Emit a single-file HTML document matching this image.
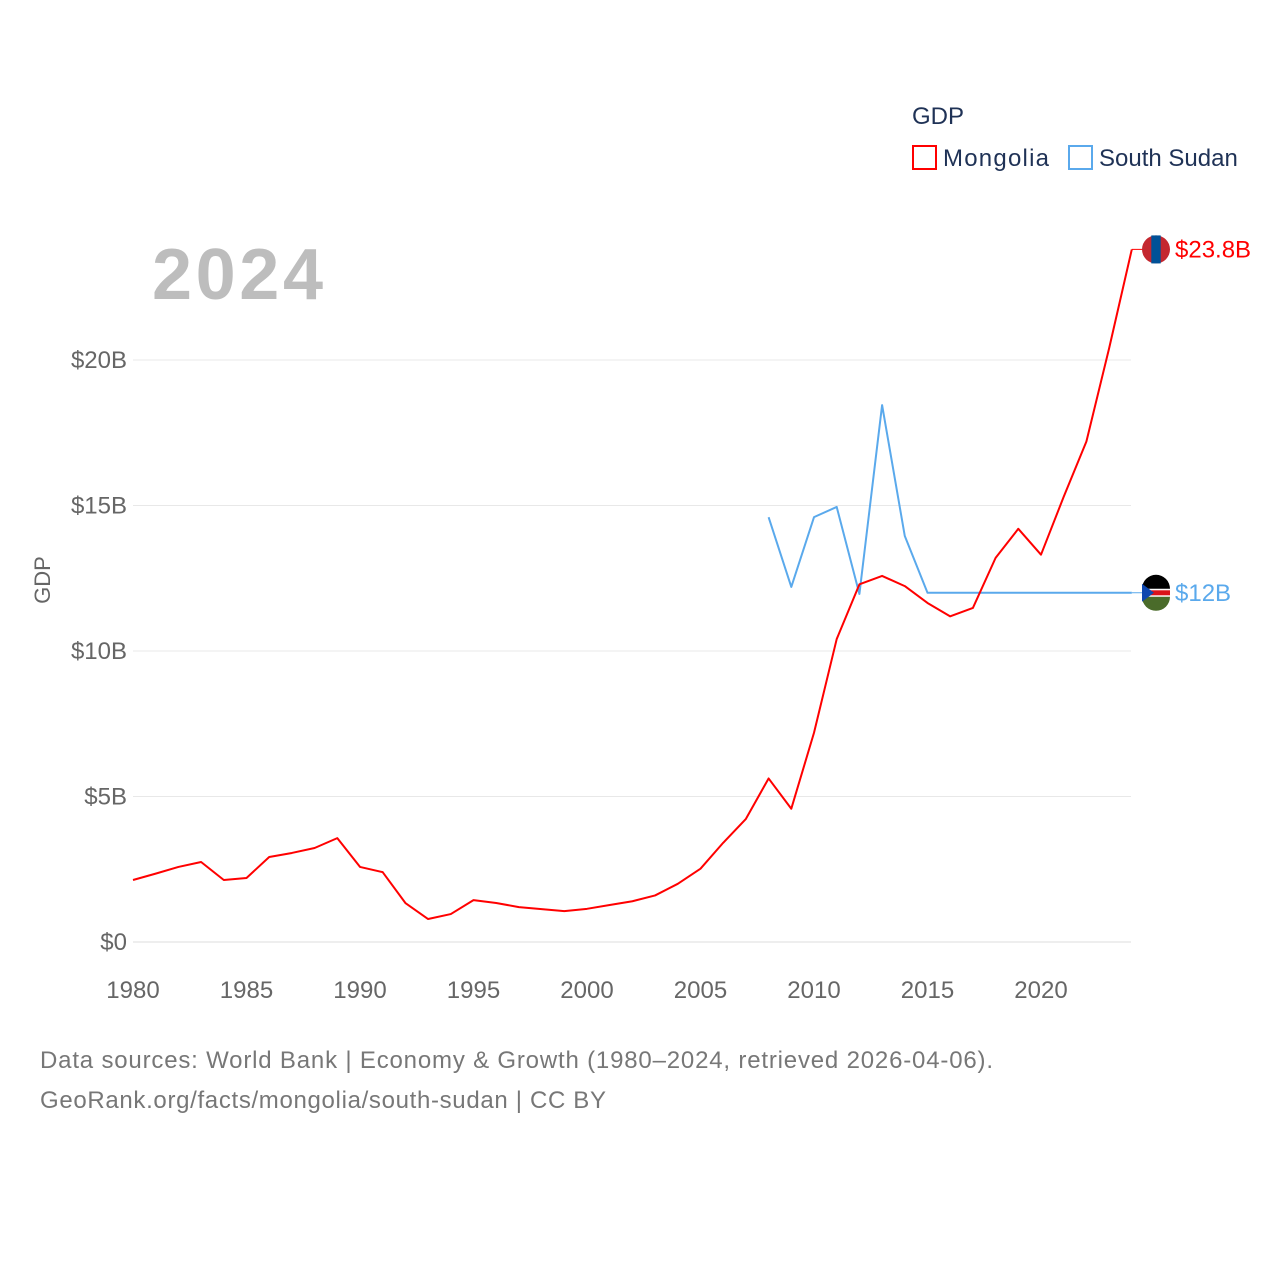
<!DOCTYPE html>
<html><head><meta charset="utf-8">
<style>
html,body{margin:0;padding:0;background:#fff;width:1280px;height:1280px;overflow:hidden;font-family:"Liberation Sans",sans-serif;}
svg text{font-family:"Liberation Sans",sans-serif;}
</style></head>
<body>
<svg id="chart" width="1280" height="1280">
  <text x="912" y="124" font-size="24" fill="#1f3256">GDP</text>
  <g>
    <rect x="913" y="146" width="23" height="23" fill="none" stroke="#ff0000" stroke-width="2"/>
    <text x="943" y="166" font-size="24" fill="#1f3256" textLength="106">Mongolia</text>
  </g>
  <g>
    <rect x="1069" y="146" width="23" height="23" fill="none" stroke="#5aa9ec" stroke-width="2"/>
    <text x="1099" y="166" font-size="24" fill="#1f3256">South Sudan</text>
  </g>
  <text x="152" y="299" font-size="72" font-weight="bold" fill="#bdbdbd" textLength="171">2024</text>
  <text transform="translate(50,580) rotate(-90)" text-anchor="middle" font-size="22" fill="#666">GDP</text>
  <g id="grid"></g><g id="yticks"></g><g id="xticks"></g><g id="series"></g>
  <text x="40" y="1068" font-size="24" fill="#777" textLength="953">Data sources: World Bank | Economy &amp; Growth (1980–2024, retrieved 2026-04-06).</text>
  <text x="40" y="1108" font-size="24" fill="#777" textLength="566">GeoRank.org/facts/mongolia/south-sudan | CC BY</text>
</svg>
<script>
const yTicks=[0,5,10,15,20];
const yTickLabels=["$0","$5B","$10B","$15B","$20B"];
const xTicks=[1980,1985,1990,1995,2000,2005,2010,2015,2020];
const mongoliaYears=[1980,1981,1982,1983,1984,1985,1986,1987,1988,1989,1990,1991,1992,1993,1994,1995,1996,1997,1998,1999,2000,2001,2002,2003,2004,2005,2006,2007,2008,2009,2010,2011,2012,2013,2014,2015,2016,2017,2018,2019,2020,2021,2022,2023,2024];
const mongoliaGDP=[2.13,2.35,2.58,2.75,2.13,2.2,2.92,3.06,3.23,3.57,2.58,2.4,1.34,0.79,0.96,1.44,1.34,1.2,1.13,1.06,1.14,1.27,1.4,1.6,2.0,2.52,3.41,4.23,5.62,4.58,7.19,10.41,12.29,12.58,12.23,11.65,11.19,11.48,13.2,14.2,13.31,15.3,17.2,20.4,23.8];
const sudanYears=[2008,2009,2010,2011,2012,2013,2014,2015,2016,2017,2018,2019,2020,2021,2022,2023,2024];
const sudanGDP=[14.6,12.2,14.6,14.95,11.96,18.45,13.95,12.0,12.0,12.0,12.0,12.0,12.0,12.0,12.0,12.0,12.0];
const endLabels=["$23.8B","$12B"];
const NS="http://www.w3.org/2000/svg";
const x=yr=>133+(yr-1980)*(1041-133)/40;
const y=v=>942-v*(942-360)/20;
function mk(t,a,p){const e=document.createElementNS(NS,t);for(const k in a)e.setAttribute(k,a[k]);p.appendChild(e);return e;}
const grid=document.getElementById('grid'),yt=document.getElementById('yticks'),xt=document.getElementById('xticks'),ser=document.getElementById('series');
yTicks.forEach((v,i)=>{
  const l=mk('line',{x1:133,x2:1131,y1:y(v),y2:y(v),stroke:i==0?'#ddd':'#e8e8e8','stroke-width':1},grid);
  
  
  const t=mk('text',{x:127,y:y(v)+8,'text-anchor':'end','font-size':24,fill:'#666'},yt);
  t.textContent=yTickLabels[i];
  
  
});
xTicks.forEach(v=>{
  const t=mk('text',{x:x(v),y:998,'text-anchor':'middle','font-size':24,fill:'#666'},xt);
  t.textContent=v;
  
  
});
function line(xs,vs,color,name){
  const p=mk('polyline',{points:xs.map((yr,i)=>x(yr)+','+y(vs[i])).join(' '),fill:'none',stroke:color,'stroke-width':2,'stroke-linejoin':'round'},ser);
  
  
}
line(sudanYears,sudanGDP,'#5aa9ec','south-sudan-line');
line(mongoliaYears,mongoliaGDP,'#ff0000','mongolia-line');
function endMark(xs,vs,color,label,name,flag){
  const lx=x(xs[xs.length-1]),ly=y(vs[vs.length-1]);
  mk('line',{x1:lx,x2:1148,y1:ly,y2:ly,stroke:color,'stroke-width':1},ser);
  const g=mk('g',{},ser);
  
  
  const cx=1156;
  if(flag==='mn'){
    mk('circle',{cx:cx,cy:ly,r:14,fill:'#c4272f'},g);
    mk('rect',{x:cx-4.7,y:ly-14,width:9.4,height:28,fill:'#015197'},g);
  }else{
    mk('circle',{cx:cx,cy:ly,r:14,fill:'#fff'},g);
    mk('path',{d:`M${cx-14},${ly-4} A14,14 0 0 1 ${cx+14},${ly-4} Z`,fill:'#000'},g);
    mk('path',{d:`M${cx-14},${ly+4} A14,14 0 0 0 ${cx+14},${ly+4} Z`,fill:'#4a6b2a'},g);
    mk('rect',{x:cx-14,y:ly-2.5,width:28,height:5,fill:'#da121a'},g);
    mk('path',{d:`M${cx-14},${ly-9} L${cx-2},${ly} L${cx-14},${ly+9} Z`,fill:'#0f47af'},g);
  }
  const t=mk('text',{x:1175,y:ly+8,'font-size':24,fill:color},ser);
  t.textContent=label;
  
  
}
endMark(mongoliaYears,mongoliaGDP,'#ff0000',endLabels[0],'mongolia','mn');
endMark(sudanYears,sudanGDP,'#5aa9ec',endLabels[1],'south-sudan','ss');
</script>
</body></html>
